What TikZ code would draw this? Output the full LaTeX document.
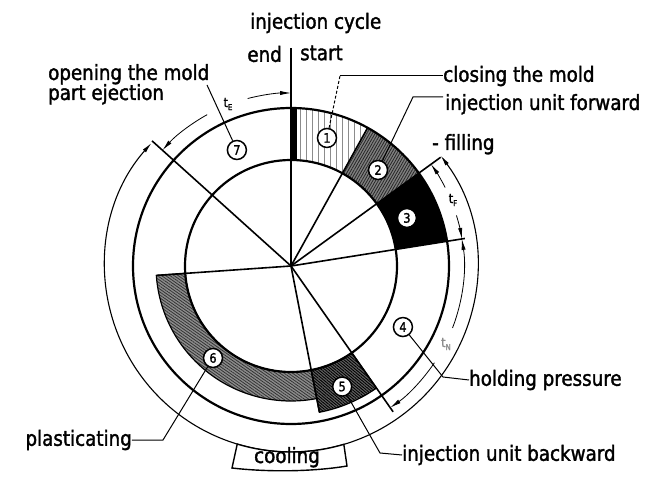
\documentclass[tikz,border=0pt]{standalone}
\usepackage{fontspec}
\setmainfont{DejaVu Sans}[FakeStretch=0.87,FakeBold=1.6]
\usetikzlibrary{arrows.meta,patterns.meta}
\newcommand{\ringsec}[4]{(#1:#3) arc[start angle=#1,end angle=#2,radius=#3] -- (#2:#4) arc[start angle=#2,end angle=#1,radius=#4] -- cycle}
\newcommand{\tlab}[1]{{\fontsize{13}{13}\selectfont t}\raisebox{-3pt}{\fontsize{8}{8}\selectfont #1}}
\begin{document}
\begin{tikzpicture}[x=1pt,y=1pt,
  ringline/.style={line width=2.2pt},
  radial/.style={line width=1.6pt},
  dim/.style={line width=0.8pt},
  outerarc/.style={line width=1.1pt},
  leader/.style={line width=1pt},
  din/.style={-{Latex[length=11pt,width=4.2pt]}},
  dinboth/.style={{Latex[length=11pt,width=4.2pt]}-{Latex[length=11pt,width=4.2pt]}},
  num/.style={circle, draw, line width=1.5pt, fill=white, inner sep=0pt, minimum size=19pt, font=\fontsize{13}{13}\selectfont},
  lab/.style={font=\fontsize{21}{21}\selectfont, inner sep=0pt},
  small/.style={inner sep=0pt}
]
\useasboundingbox (-291,-210) rectangle (364,266);

% ---- filled sectors
\path[pattern={Lines[angle=90,distance=6pt,line width=0.6pt]}, pattern color=black!45] \ringsec{61}{90}{106}{158};
\fill (0.5,106) rectangle (6,158);
\fill[black!50] \ringsec{36}{61}{106}{158};
\path[pattern={Lines[angle=60,distance=2.4pt,line width=0.8pt]}, pattern color=black!85] \ringsec{36}{61}{106}{158};
\fill[black] \ringsec{9}{36}{106}{158};
\fill[black!45] \ringsec{184}{281}{106}{135};
\path[pattern={Lines[angle=-35,distance=2.4pt,line width=0.8pt]}, pattern color=black!80] \ringsec{184}{281}{106}{135};
\fill[black!62] \ringsec{281}{305}{106}{149};
\path[pattern={Lines[angle=-40,distance=2.2pt,line width=0.9pt]}, pattern color=black] \ringsec{281}{305}{106}{149};
\draw[line width=1.2pt] \ringsec{184}{281}{106}{135};
\draw[line width=1.2pt] \ringsec{281}{305}{106}{149};

% ---- circles
\draw[ringline] (0,0) circle[radius=106];
\draw[ringline] (0,0) circle[radius=158];

% ---- radial lines
\draw[radial] (0,0) -- (90:218);
\draw[radial] (0,0) -- (61:158);
\draw[radial] (0,0) -- (36:185);
\draw[radial] (0,0) -- (9:176);
\draw[radial] (0,0) -- (-55:178);
\draw[radial] (0,0) -- (-79:149);
\draw[radial] (0,0) -- (184:135);
\draw[radial] (0,0) -- (138:187);

% ---- dimension arcs
\draw[dim,din] (119:173) arc[start angle=119,end angle=138,radius=173];
\draw[dim,din] (104.5:173) arc[start angle=104.5,end angle=90,radius=173];
\draw[dim,din] (27:173) arc[start angle=27,end angle=36,radius=173];
\draw[dim,din] (17:173) arc[start angle=17,end angle=9,radius=173];
\draw[dim,din] (-21:173) arc[start angle=-21,end angle=9,radius=173];
\draw[dim,din] (-34:173) arc[start angle=-34,end angle=-55,radius=173];
\node[small] (tE) at (-63,162) {\tlab{E}};
\node[small] (tF) at (162,66) {\tlab{F}};
\node[small, text=black!45] (tN) at (155,-78) {\tlab{N}};

% ---- outer cooling arc
\draw[outerarc,dinboth] (36.5:186) arc[start angle=36.5,end angle=-221.5,radius=186];
\draw[line width=1.4pt, fill=white] (-106.8:186) arc[start angle=-106.8,end angle=-73.5,radius=186]
  -- (56,-200) .. controls (20,-206) and (-25,-206) .. (-59,-202) -- cycle;
\node[lab, anchor=base] (cool) at (-4,-197) {cooling};

% ---- number circles
\node[num] (c1) at (74.3:133) {1};
\node[num] (c2) at (47.8:129.6) {2};
\node[num] (c3) at (22.5:125.5) {3};
\node[num] (c4) at (-28.6:127.5) {4};
\node[num] (c5) at (-67:131) {5};
\node[num] (c6) at (-130.3:120.6) {6};
\node[num] (c7) at (115:128) {7};

% ---- texts
\node[lab, anchor=west] (cyc) at (-41,243) {injection cycle};
\node[lab, anchor=east] (endt) at (-9,212) {end};
\node[lab, anchor=west] (startt) at (9,213) {start};
\node[lab, anchor=base west] (open1) at (-243,186) {opening the mold};
\node[lab, anchor=base west] (open2) at (-243,166) {part ejection};
\node[lab, anchor=west] (closing) at (152,190) {closing the mold};
\node[lab, anchor=base west] (fwd) at (154,156) {injection unit forward};
\node[lab, anchor=base west] (filling) at (141,116) {- filling};
\node[lab, anchor=west] (hold) at (178,-114) {holding pressure};
\node[lab, anchor=west] (back) at (111,-189) {injection unit backward};
\node[lab, anchor=east] (plast) at (-159,-174) {plasticating};

% ---- leaders
\coordinate (k1) at (49,190);
\draw[leader, densely dashed] (c1) -- (k1);
\draw[leader] (k1) -- (closing.west);
\coordinate (k2) at (122,169);
\coordinate (k2b) at (152,169);
\draw[leader] (c2) -- (k2) -- (k2b);
\coordinate (k4) at (152,-111);
\draw[leader] (c4) -- (k4) -- (hold.west);
\coordinate (k5) at (89,-187);
\draw[leader] (c5) -- (k5) -- (back.west);
\coordinate (k6) at (-128,-174);
\draw[leader] (c6) -- (k6) -- (plast.east);
\coordinate (k7) at (-84,181);
\draw[leader] (k7) -- (c7);
\end{tikzpicture}
\end{document}
